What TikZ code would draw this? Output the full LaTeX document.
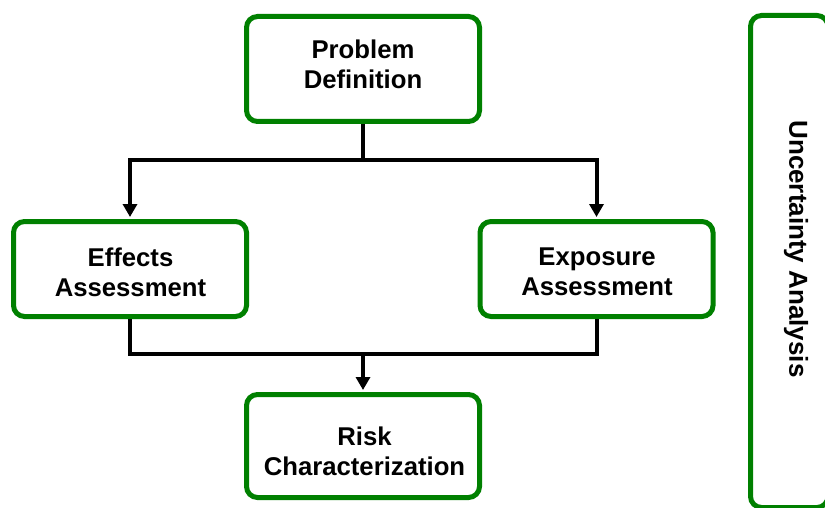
\documentclass[tikz,border=0pt]{standalone}
\usepackage{fontspec}
\setmainfont{Liberation Sans}
\usetikzlibrary{arrows.meta}
\definecolor{boxgreen}{RGB}{0,128,0}
\begin{document}
\begin{tikzpicture}[x=1pt,y=-1pt,
  stagebox/.style={draw=boxgreen, line width=5pt, rounded corners=11pt,
    fill=white, minimum width=233pt, inner sep=0pt},
  stagetext/.style={align=center, inner sep=0pt,
    font=\fontsize{25.7}{30}\selectfont\bfseries},
  link/.style={line width=4pt},
  flow/.style={link, shorten >=2pt, -{Triangle[width=14pt,length=13pt]}}
]
  \useasboundingbox (0,0) rectangle (825,508);
  \clip (0,0) rectangle (825,508);
  \fill[white] (0,0) rectangle (825,508);

  % process stages
  \node[stagebox, minimum height=105pt] (pd) at (363,69) {};
  \node[stagebox, minimum height=95pt]  (ea) at (130,269) {};
  \node[stagebox, minimum height=95pt]  (xa) at (596.5,269) {};
  \node[stagebox, minimum height=103pt] (rc) at (363,446) {};

  \node[stagetext] (pdt) at (363,64)    {Problem\\Definition};
  \node[stagetext] (eat) at (130.5,272) {Effects\\Assessment};
  \node[stagetext] (xat) at (597,272)   {Exposure\\Assessment};
  \node[stagetext] (rct) at (364.5,451) {Risk\\Characterization};

  % side bar spanning all stages
  \node[draw=boxgreen, line width=5pt, rounded corners=11pt, inner sep=0pt,
        minimum width=77.5pt, minimum height=492pt] (ua) at (789.25,261.5) {};
  \node[rotate=-90, inner sep=0pt, font=\fontsize{26}{30}\selectfont\bfseries]
        (uat) at (796,249) {Uncertainty Analysis};

  % connectors
  \coordinate (split) at (363,160);
  \coordinate (merge) at (363,354);
  \draw[link] (pd.south) -- (split);
  \draw[flow] (split) -| (ea.north);
  \draw[flow] (split) -| (xa.north);
  \draw[link] (ea.south) |- (merge) -| (xa.south);
  \draw[flow] (merge) -- (rc.north);
\end{tikzpicture}
\end{document}
